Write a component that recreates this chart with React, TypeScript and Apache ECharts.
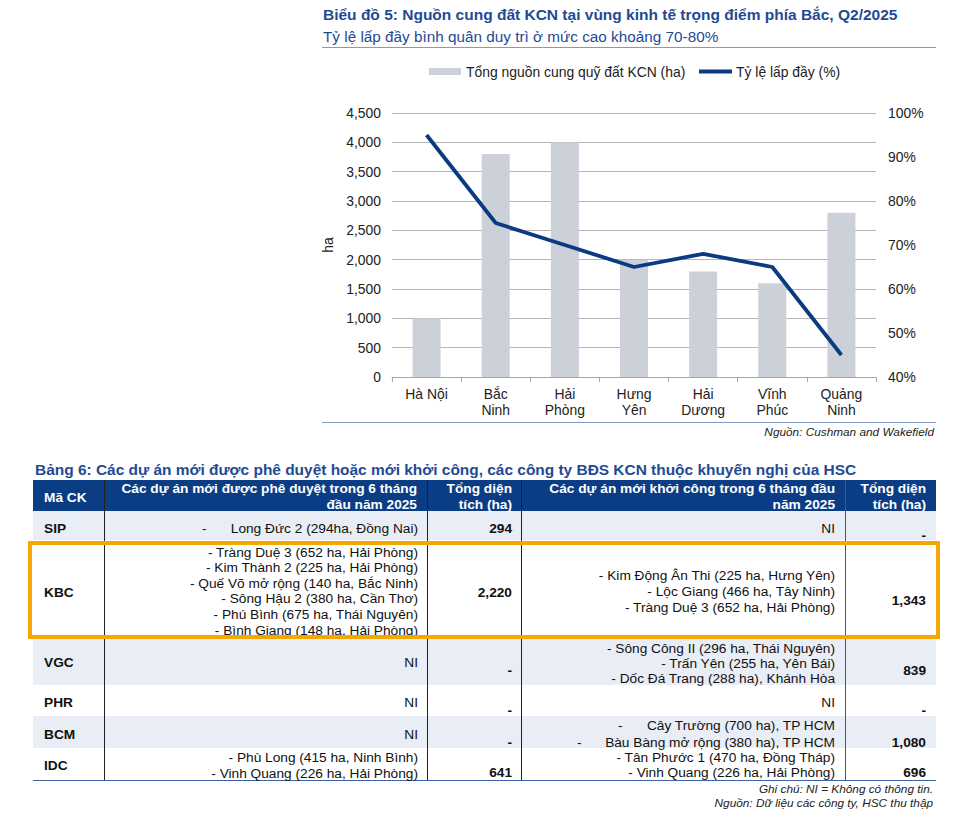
import React, { useEffect, useRef } from "react";
import * as echarts from "echarts";

// ---------- Chart data ----------
const categories = ["Hà Nội", "Bắc\nNinh", "Hải\nPhòng", "Hưng\nYên", "Hải\nDương", "Vĩnh\nPhúc", "Quảng\nNinh"];
const supplyHa = [1000, 3800, 4000, 2000, 1800, 1600, 2800];
const occupancyPct = [95, 75, 70, 65, 68, 65, 45];
const seriesNames = ["Tổng nguồn cung quỹ đất KCN (ha)", "Tỷ lệ lấp đầy (%)"];

const chartTitle = "Biểu đồ 5: Nguồn cung đất KCN tại vùng kinh tế trọng điểm phía Bắc, Q2/2025";
const chartSubtitle = "Tỷ lệ lấp đầy bình quân duy trì ở mức cao khoảng 70-80%";
const chartSource = "Nguồn: Cushman and Wakefield";

// ---------- Table data ----------
const tableTitle = "Bảng 6: Các dự án mới được phê duyệt hoặc mới khởi công, các công ty BĐS KCN thuộc khuyến nghị của HSC";
const headers = [
  ["Mã CK"],
  ["Các dự án mới được phê duyệt trong 6 tháng", "đầu năm 2025"],
  ["Tổng diện", "tích (ha)"],
  ["Các dự án mới khởi công trong 6 tháng đầu", "năm 2025"],
  ["Tổng diện", "tích (ha)"],
];
const tickers = ["SIP", "KBC", "VGC", "PHR", "BCM", "IDC"];
const approvedProjects = [
  ["Long Đức 2 (294ha, Đồng Nai)"],
  [
    "- Tràng Duệ 3 (652 ha, Hải Phòng)",
    "- Kim Thành 2 (225 ha, Hải Phòng)",
    "- Quế Võ mở rộng (140 ha, Bắc Ninh)",
    "- Sông Hậu 2 (380 ha, Cần Thơ)",
    "- Phú Bình (675 ha, Thái Nguyên)",
    "- Bình Giang (148 ha, Hải Phòng)",
  ],
  ["NI"],
  ["NI"],
  ["NI"],
  ["- Phù Long (415 ha, Ninh Bình)", "- Vinh Quang (226 ha, Hải Phòng)"],
];
const approvedArea = ["294", "2,220", "-", "-", "-", "641"];
const startedProjects = [
  ["NI"],
  ["- Kim Động Ân Thi (225 ha, Hưng Yên)", "- Lộc Giang (466 ha, Tây Ninh)", "- Tràng Duệ 3 (652 ha, Hải Phòng)"],
  ["- Sông Công II (296 ha, Thái Nguyên)", "- Trấn Yên (255 ha, Yên Bái)", "- Dốc Đá Trang (288 ha), Khánh Hòa"],
  ["NI"],
  ["Cây Trường (700 ha), TP HCM", "Bàu Bàng mở rộng (380 ha), TP HCM"],
  ["- Tân Phước 1 (470 ha, Đồng Tháp)", "- Vinh Quang (226 ha, Hải Phòng)"],
];
const startedArea = ["-", "1,343", "839", "-", "1,080", "696"];
const tableNotes = ["Ghi chú: NI = Không có thông tin.", "Nguồn: Dữ liệu các công ty, HSC thu thập"];

// ---------- Layout (positions only) ----------
const FF = '"Liberation Sans", Arial, sans-serif';
const BLUE = "#1F4A94";
const NAVY = "#0B3D85";
const LIGHT = "#E9EDF5";
const BAR = "#CBD0D9";
const LINE = "#0B3A82";
const colX = [33, 104, 427, 521, 845, 936];
const rowTop = [511, 540, 639, 685, 716, 748, 780];
const rowShaded = [true, false, true, false, true, false];
const approvedY = [[528, 15.6], [552, 15.6], [662, 15.6], [702, 15.6], [734, 15.6], [757, 16]];
const approvedNumY = [528, 592, 670, 710, 742, 772];
const startedY = [[528, 15.6], [575, 16], [648, 15], [702, 15.6], [725, 17], [757, 15]];
const startedNumY = [535, 600, 670, 710, 742, 772];
const tickerY = [528, 592, 662, 702, 734, 765];
// detached bullets: [row, column(1|3), lineIndex, x]
const detachedBullets: [number, number, number, number][] = [
  [0, 1, 0, 202],
  [4, 3, 0, 618],
  [4, 3, 1, 577],
];

function txt(text: string, x: number, y: number, font: string, fill: string, align = "left", z = 10) {
  return {
    type: "text",
    x,
    y,
    z,
    silent: true,
    style: {
      text,
      font,
      fill,
      textAlign: align,
      align,
      textVerticalAlign: "middle",
      verticalAlign: "middle",
    },
  };
}

function buildGraphics() {
  const g: any[] = [];
  // chart header
  g.push(txt(chartTitle, 323, 14, `bold 15.5px ${FF}`, BLUE));
  g.push(txt(chartSubtitle, 323, 36, `15.3px ${FF}`, BLUE));
  g.push({ type: "line", silent: true, shape: { x1: 322, y1: 47.5, x2: 936, y2: 47.5 }, style: { stroke: "#7F9BC8", lineWidth: 1.2 } });
  g.push({ type: "line", silent: true, shape: { x1: 322, y1: 422.5, x2: 936, y2: 422.5 }, style: { stroke: "#7F9BC8", lineWidth: 1.2 } });
  g.push(txt(chartSource, 934, 432, `italic 11.8px ${FF}`, "#222", "right"));

  // legend (drawn manually so the line swatch has no marker)
  g.push({ type: "rect", silent: true, shape: { x: 429, y: 68, width: 32, height: 7 }, style: { fill: BAR } });
  g.push(txt(seriesNames[0], 466, 71.5, `13.9px ${FF}`, "#222"));
  g.push({ type: "line", silent: true, shape: { x1: 699, y1: 71.5, x2: 732, y2: 71.5 }, style: { stroke: LINE, lineWidth: 4 } });
  g.push(txt(seriesNames[1], 736, 71.5, `13.9px ${FF}`, "#222"));

  // table title
  g.push(txt(tableTitle, 35, 469, `bold 15.45px ${FF}`, BLUE));

  // header bg
  g.push({ type: "rect", silent: true, shape: { x: colX[0], y: 480, width: colX[5] - colX[0], height: rowTop[0] - 480 }, style: { fill: NAVY } });
  // rows bg
  for (let r = 0; r < tickers.length; r++) {
    g.push({
      type: "rect",
      silent: true,
      shape: { x: colX[0], y: rowTop[r], width: colX[5] - colX[0], height: rowTop[r + 1] - rowTop[r] },
      style: { fill: rowShaded[r] ? LIGHT : "#FFFFFF" },
    });
  }
  // column separators
  for (let c = 1; c < 5; c++) {
    g.push({
      type: "line",
      silent: true,
      z: 5,
      shape: { x1: colX[c] + 0.5, y1: 480, x2: colX[c] + 0.5, y2: 780 },
      style: { stroke: c === 4 ? "#555" : "#222", lineWidth: 1 },
    });
  }
  // bottom border
  g.push({ type: "line", silent: true, z: 5, shape: { x1: colX[0], y1: 780.5, x2: colX[5], y2: 780.5 }, style: { stroke: "#3B63A5", lineWidth: 1.2 } });

  // header text
  const hFont = `bold 13.7px ${FF}`;
  g.push(txt(headers[0][0], 44, 497, hFont, "#fff"));
  const hRight = [0, 417, 512, 835, 926];
  for (let c = 1; c < 5; c++) {
    headers[c].forEach((line, i) => g.push(txt(line, hRight[c], 488 + i * 16, hFont, "#fff", "right")));
  }

  // body
  const bFont = `13.7px ${FF}`;
  const bBold = `bold 13.7px ${FF}`;
  for (let r = 0; r < tickers.length; r++) {
    g.push(txt(tickers[r], 44, tickerY[r], bBold, "#111"));
    approvedProjects[r].forEach((line, i) => {
      g.push(txt(line, 418, approvedY[r][0] + i * approvedY[r][1], bFont, "#111", "right", 8));
    });
    g.push(txt(approvedArea[r], 512, approvedNumY[r], bBold, "#111", "right"));
    startedProjects[r].forEach((line, i) => {
      g.push(txt(line, 835, startedY[r][0] + i * startedY[r][1], bFont, "#111", "right", 8));
    });
    g.push(txt(startedArea[r], 926, startedNumY[r], bBold, "#111", "right"));
  }
  detachedBullets.forEach(([r, c, i, x]) => {
    const yy = c === 1 ? approvedY[r][0] + i * approvedY[r][1] : startedY[r][0] + i * startedY[r][1];
    g.push(txt("-", x, yy, bFont, "#111", "left", 8));
  });

  // orange highlight box
  g.push({
    type: "rect",
    silent: true,
    z: 20,
    shape: { x: 30, y: 543, width: 908, height: 94 },
    style: { fill: "transparent", stroke: "#F7A800", lineWidth: 4 },
  });
  // text overflow below KBC row is clipped
  g.push({ type: "rect", silent: true, z: 15, shape: { x: 33, y: 637, width: 903, height: 2 }, style: { fill: LIGHT } });

  // notes
  g.push(txt(tableNotes[0], 933, 789, `italic 11.8px ${FF}`, "#222", "right"));
  g.push(txt(tableNotes[1], 933, 803, `italic 11.8px ${FF}`, "#222", "right"));
  return g;
}

export default function App() {
  const ref = useRef<HTMLDivElement>(null);
  useEffect(() => {
    document.body.style.margin = "0";
    if (!ref.current) return;
    const chart = echarts.init(ref.current, undefined, { renderer: "svg" });
    const axisText = { fontFamily: FF, fontSize: 13.9, color: "#222" };
    chart.setOption({
      animation: false,
      textStyle: { fontFamily: FF },
      legend: { show: false, data: seriesNames },
      grid: { left: 392, right: 80, top: 113, height: 264, containLabel: false },
      xAxis: {
        type: "category",
        data: categories,
        axisLine: { lineStyle: { color: "#A6A6A6" } },
        axisTick: { show: true, length: 5, lineStyle: { color: "#A6A6A6" } },
        axisLabel: { ...axisText, lineHeight: 16, margin: 9, interval: 0 },
      },
      yAxis: [
        {
          type: "value",
          min: 0,
          max: 4500,
          interval: 500,
          name: "ha",
          nameLocation: "middle",
          nameRotate: 90,
          nameGap: 50,
          nameTextStyle: { ...axisText },
          axisLine: { show: false },
          axisTick: { show: false },
          axisLabel: { ...axisText, margin: 11, formatter: (v: number) => v.toLocaleString("en-US") },
          splitLine: { lineStyle: { color: "#B5B5B5", width: 1 } },
        },
        {
          type: "value",
          min: 40,
          max: 100,
          interval: 10,
          position: "right",
          axisLine: { show: false },
          axisTick: { show: false },
          axisLabel: { ...axisText, margin: 12, formatter: "{value}%" },
          splitLine: { show: false },
        },
      ],
      series: [
        {
          name: seriesNames[0],
          type: "bar",
          data: supplyHa,
          barWidth: 28,
          itemStyle: { color: BAR },
          z: 2,
        },
        {
          name: seriesNames[1],
          type: "line",
          yAxisIndex: 1,
          data: occupancyPct,
          symbol: "none",
          lineStyle: { color: LINE, width: 3.8 },
          itemStyle: { color: LINE },
          z: 3,
        },
      ],
      graphic: { elements: buildGraphics() },
    });
    return () => chart.dispose();
  }, []);
  return <div ref={ref} style={{ width: 956, height: 817 }} />;
}
